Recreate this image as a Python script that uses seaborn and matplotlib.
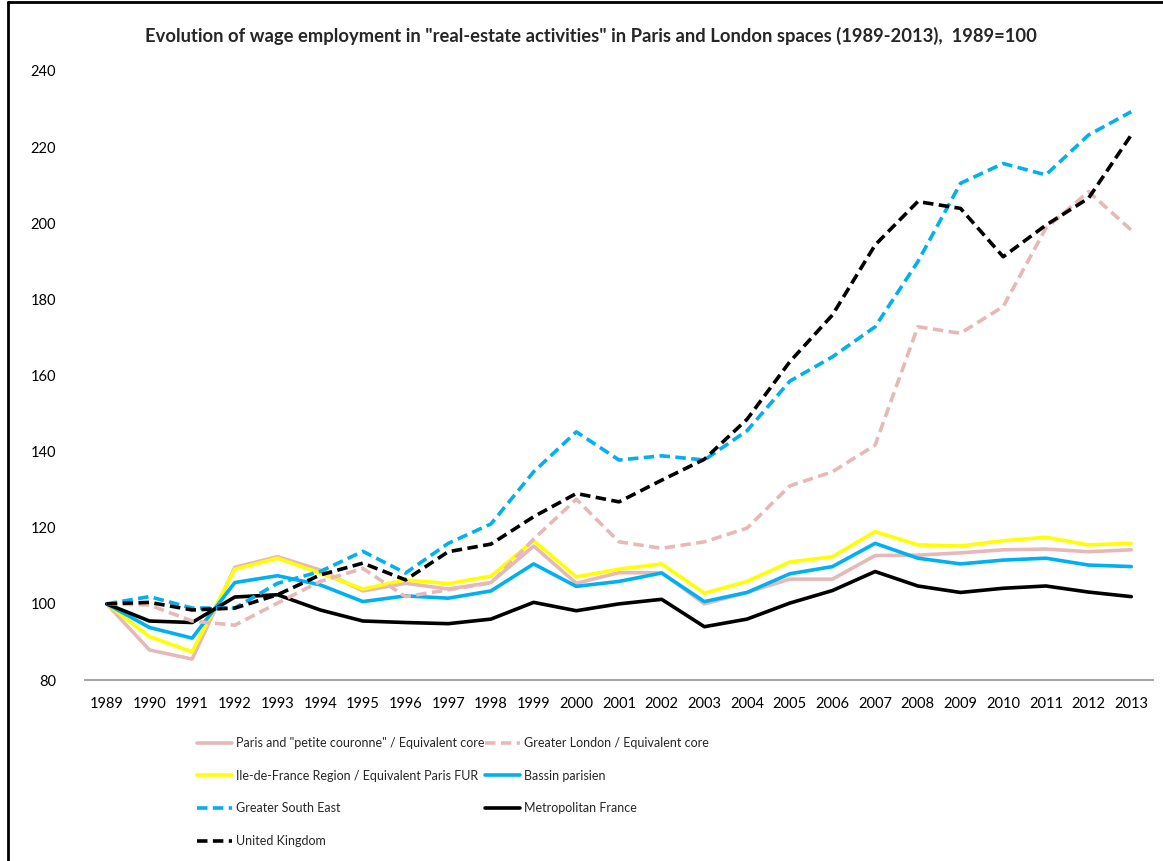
import matplotlib
matplotlib.use("Agg")
import matplotlib.pyplot as plt
import matplotlib.lines as mlines
import seaborn as sns
import pandas as pd

years = [str(y) for y in range(1989, 2014)]

paris_core = [100, 87.9, 85.5, 109.6, 112.4, 108.9, 103.4, 105.4, 103.9, 105.6, 115.2, 105.4, 108.2,
              108.2, 100.0, 103.0, 106.5, 106.5, 112.7, 112.8, 113.4, 114.2, 114.4, 113.7, 114.2]
greater_london = [100, 99.7, 95.5, 94.4, 100.2, 105.9, 109.3, 101.9, 103.7, 105.5, 117.0, 127.5, 116.3,
                  114.6, 116.3, 119.9, 131.0, 134.7, 141.7, 172.8, 171.1, 178.1, 198.7, 208.3, 198.2]
idf_region = [100, 91.4, 87.4, 109.1, 112.0, 108.1, 103.9, 106.3, 105.3, 107.3, 116.6, 107.1, 109.1,
              110.5, 102.8, 105.9, 111.0, 112.4, 119.0, 115.5, 115.2, 116.6, 117.5, 115.5, 115.9]
bassin_parisien = [100, 93.8, 91.0, 105.6, 107.4, 105.0, 100.6, 102.1, 101.5, 103.4, 110.5, 104.6, 105.9,
                   108.1, 100.6, 103.0, 107.9, 109.8, 115.9, 112.0, 110.5, 111.5, 112.0, 110.2, 109.8]
greater_south_east = [100, 101.9, 98.9, 98.9, 105.4, 108.5, 113.8, 108.1, 115.9, 121.0, 134.7, 145.2, 137.8,
                      138.9, 137.8, 145.5, 158.5, 164.9, 172.8, 189.9, 210.5, 215.7, 212.7, 223.2, 229.3]
metro_france = [100, 95.5, 95.1, 101.8, 102.4, 98.4, 95.5, 95.1, 94.8, 96.0, 100.4, 98.2, 100.0,
                101.2, 94.0, 96.0, 100.2, 103.5, 108.5, 104.7, 103.0, 104.1, 104.7, 103.1, 101.9]
united_kingdom = [100, 100.4, 98.4, 98.9, 102.4, 107.6, 110.7, 106.3, 113.7, 115.7, 122.9, 129.0, 126.8,
                  132.5, 138.0, 148.5, 163.6, 175.9, 194.3, 205.7, 203.9, 191.2, 199.5, 206.6, 223.2]

series_names = [
    'Paris and "petite couronne" / Equivalent core',
    "Ile-de-France Region / Equivalent Paris FUR",
    "Greater South East",
    "United Kingdom",
    "Greater London / Equivalent core",
    "Bassin parisien",
    "Metropolitan France",
]
series_values = [paris_core, idf_region, greater_south_east, united_kingdom,
                 greater_london, bassin_parisien, metro_france]
series_colors = ["#E6B9B8", "#FFFF00", "#00B0F0", "#000000", "#E6B9B8", "#00B0F0", "#000000"]
series_dashed = [False, False, True, True, True, False, False]

sns.set_theme(style="white")
plt.rcParams["font.family"] = ["Lato", "DejaVu Sans"]

fig = plt.figure(figsize=(11.63, 8.61), dpi=100)
ax = fig.add_axes([85.4 / 1163, 1 - 680 / 861, (1152.6 - 85.4) / 1163, (680 - 71) / 861])

lw = 2.6
dash = (2.9, 1.5)
xpos = list(range(len(years)))
# solid French lines underneath, UK dashed lines on top
draw_order = [0, 1, 5, 6, 4, 2, 3]
for z, i in enumerate(draw_order):
    df = pd.DataFrame({"x": xpos, "y": series_values[i]})
    line_kw = dict(dashes=dash) if series_dashed[i] else dict(linestyle="-")
    sns.lineplot(data=df, x="x", y="y", ax=ax, color=series_colors[i], linewidth=lw,
                 legend=False, zorder=3 + z, **line_kw)

ax.set_xlim(-0.5, len(years) - 0.5)
ax.set_ylim(80, 240)
ax.set_yticks(range(80, 241, 20))
ax.set_xticks(xpos)
ax.set_xticklabels(years)
ax.set_xlabel("")
ax.set_ylabel("")
ax.grid(False)
for side in ["top", "right", "left"]:
    ax.spines[side].set_visible(False)
ax.spines["bottom"].set_color("#A6A6A6")
ax.spines["bottom"].set_linewidth(1.5)
ax.tick_params(axis="y", length=0, pad=21, labelsize=10.5, labelcolor="black")
ax.tick_params(axis="x", length=0, pad=12, labelsize=10.5, labelcolor="black")

fig.text(591 / 1163, 1 - 36 / 861,
         'Evolution of wage employment in "real-estate activities" in Paris and London spaces (1989-2013),  1989=100',
         ha="center", va="center", fontsize=13.2, fontweight="bold")

handles = []
for name, col, dsh in zip(series_names, series_colors, series_dashed):
    kw = dict(dashes=dash) if dsh else dict(linestyle="-")
    handles.append(mlines.Line2D([], [], color=col, linewidth=lw, label=name, **kw))
fig.legend(handles=handles, ncol=2, loc="upper left", bbox_to_anchor=(197 / 1163, 1 - 737 / 861),
           frameon=False, fontsize=9.0, handlelength=2.8, handletextpad=0.32,
           columnspacing=0.0, labelspacing=1.65, borderaxespad=0, borderpad=0)

# frame edges of the figure
fig.add_artist(mlines.Line2D([8 / 1163, 8 / 1163], [0, 1 - 2 / 861], color="black", linewidth=2,
                             transform=fig.transFigure))
fig.add_artist(mlines.Line2D([8 / 1163, 1], [1 - 2 / 861, 1 - 2 / 861], color="black", linewidth=2,
                             transform=fig.transFigure))

fig.savefig("out.png", dpi=100)
